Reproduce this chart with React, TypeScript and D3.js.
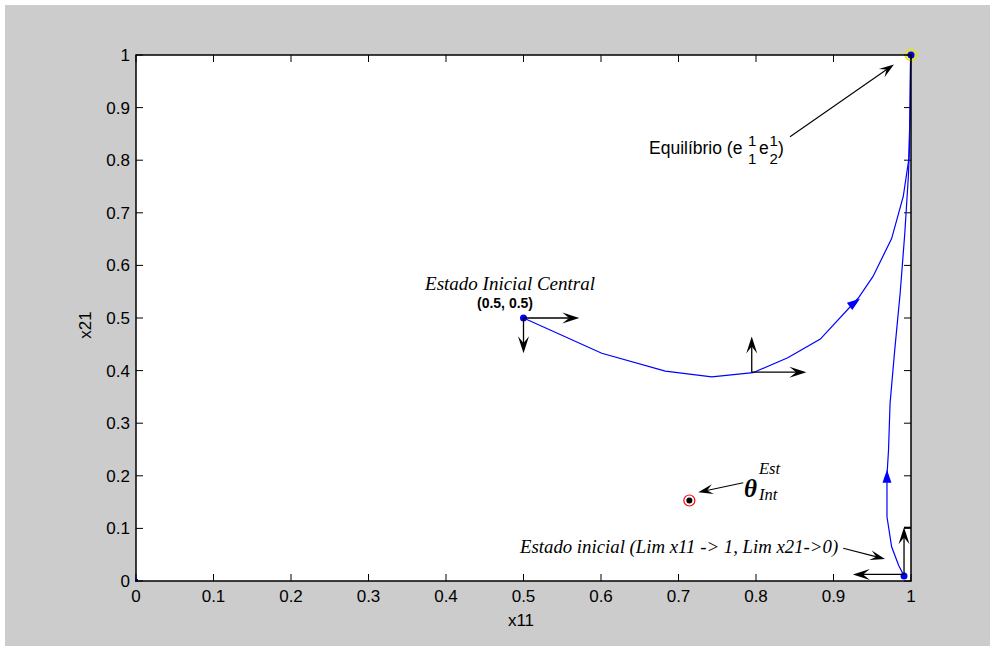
import React from 'react';
import * as d3 from 'd3';

// trajectory from the central initial state
const centralX = [0.5, 0.601, 0.683, 0.743, 0.796, 0.841, 0.883, 0.932, 0.951, 0.975, 0.99, 0.997, 0.999, 0.9995];
const centralY = [0.5, 0.433, 0.399, 0.388, 0.396, 0.4245, 0.46, 0.538, 0.579, 0.651, 0.731, 0.8, 0.9, 1.0];

// trajectory from the bottom-right initial state
const limitX = [0.991, 0.984, 0.975, 0.969, 0.969, 0.971, 0.973, 0.979, 0.986, 0.992, 0.9966, 0.998, 0.9995];
const limitY = [0.0095, 0.03, 0.065, 0.122, 0.2, 0.249, 0.338, 0.439, 0.547, 0.661, 0.769, 0.82, 1.0];

// direction vectors drawn on the trajectories [x0, y0, x1, y1]
const vectors = [
  [0.5, 0.5, 0.572, 0.5],
  [0.5, 0.5, 0.5, 0.433],
  [0.7945, 0.397, 0.7945, 0.465],
  [0.7945, 0.397, 0.865, 0.397],
  [0.991, 0.0125, 0.925, 0.0125],
  [0.991, 0.0125, 0.991, 0.102],
];

// annotation arrows [x0, y0, x1, y1]
const pointers = [
  [0.8439, 0.8447, 0.978, 0.982],
  [0.9126, 0.0622, 0.9665, 0.0418],
  [0.7836, 0.1869, 0.7255, 0.1686],
];

// blue direction markers on the curves [x, y, dx, dy]
const curveMarks = [
  [0.928, 0.53, 1, 1.1],
  [0.969, 0.2, 0, 1],
];

const thetaPoint = [0.714, 0.153];
const equilibrium = [1, 1];

const ticks = [0, 0.1, 0.2, 0.3, 0.4, 0.5, 0.6, 0.7, 0.8, 0.9, 1];

const W = 995;
const H = 651;
const left = 136;
const right = 911;
const top = 55;
const bottom = 581;

const sans = '"Liberation Sans", Arial, sans-serif';
const serif = '"Liberation Serif", "Times New Roman", serif';

// arrow head; notch = 0 gives a plain triangle
function head(x1: number, y1: number, ang: number, len: number, wid: number, notch = 0.4) {
  const ux = Math.cos(ang), uy = Math.sin(ang);
  const px = -uy, py = ux;
  const bx = x1 - ux * len, by = y1 - uy * len;
  const nx = x1 - ux * len * (1 - notch), ny = y1 - uy * len * (1 - notch);
  return `M${x1},${y1}L${bx + px * wid / 2},${by + py * wid / 2}L${nx},${ny}L${bx - px * wid / 2},${by - py * wid / 2}Z`;
}

export default function App() {
  const x = d3.scaleLinear().domain([0, 1]).range([left, right]);
  const y = d3.scaleLinear().domain([0, 1]).range([bottom, top]);

  const path = (xs: number[], ys: number[]) =>
    d3.line<number>().x(d => x(xs[d])).y(d => y(ys[d]))(d3.range(xs.length)) || '';

  const arrow = (a: number[], key: string, len = 15, wid = 10, sw = 1.3) => {
    const x0 = x(a[0]), y0 = y(a[1]), x1 = x(a[2]), y1 = y(a[3]);
    const ang = Math.atan2(y1 - y0, x1 - x0);
    return (
      <g key={key}>
        <line x1={x0} y1={y0} x2={x1 - Math.cos(ang) * len * 0.5} y2={y1 - Math.sin(ang) * len * 0.5} stroke="#000" strokeWidth={sw} />
        <path d={head(x1, y1, ang, len, wid)} fill="#000" />
      </g>
    );
  };

  return (
    <svg width={W} height={H} style={{ position: 'absolute', left: 0, top: 0 }}>
      <rect x={0} y={0} width={W} height={H} fill="#fff" />
      <rect x={5} y={5} width={W - 10} height={H - 10} fill="#cccccc" />
      <rect x={left} y={top} width={right - left} height={bottom - top} fill="#fff" />

      {/* ticks */}
      {ticks.map(t => (
        <g key={'t' + t} stroke="#000" strokeWidth={1}>
          <line x1={x(t)} x2={x(t)} y1={bottom} y2={bottom - 7} />
          <line x1={x(t)} x2={x(t)} y1={top} y2={top + 7} />
          <line x1={left} x2={left + 7} y1={y(t)} y2={y(t)} />
          <line x1={right} x2={right - 7} y1={y(t)} y2={y(t)} />
        </g>
      ))}
      {ticks.map(t => (
        <text key={'xl' + t} x={x(t)} y={bottom + 21} fontFamily={sans} fontSize={17} textAnchor="middle">{String(t)}</text>
      ))}
      {ticks.map(t => (
        <text key={'yl' + t} x={left - 6} y={y(t) + 6} fontFamily={sans} fontSize={17} textAnchor="end">{String(t)}</text>
      ))}
      <text x={521} y={626} fontFamily={sans} fontSize={17} textAnchor="middle">x11</text>
      <text transform={`translate(91,325) rotate(-90)`} fontFamily={sans} fontSize={17} textAnchor="middle">x21</text>

      {/* trajectories */}
      <path d={path(centralX, centralY)} fill="none" stroke="#0000ff" strokeWidth={1.2} />
      <path d={path(limitX, limitY)} fill="none" stroke="#0000ff" strokeWidth={1.2} />
      {curveMarks.map((m, i) => {
        const ang = Math.atan2(-m[3] * (bottom - top), m[2] * (right - left));
        return <path key={'cm' + i} d={head(x(m[0]) + Math.cos(ang) * 6, y(m[1]) + Math.sin(ang) * 6, ang, 13, 9, 0)} fill="#0000ff" />;
      })}

      {/* points */}
      <rect x={x(0) - 1} y={y(0) - 2} width={3} height={3} fill="#0000ff" />
      <circle cx={x(centralX[0])} cy={y(centralY[0])} r={3.5} fill="#0000ff" />
      <circle cx={x(limitX[0])} cy={y(limitY[0])} r={3.5} fill="#0000ff" />
      <circle cx={x(equilibrium[0])} cy={y(equilibrium[1])} r={5.5} fill="none" stroke="#e6e600" strokeWidth={1.5} />
      <circle cx={x(equilibrium[0])} cy={y(equilibrium[1])} r={3.5} fill="#0000cc" />
      <circle cx={x(thetaPoint[0])} cy={y(thetaPoint[1])} r={5.5} fill="none" stroke="#ff0000" strokeWidth={1.2} />
      <circle cx={x(thetaPoint[0])} cy={y(thetaPoint[1])} r={3} fill="#000" />

      {/* frame */}
      <rect x={left} y={top} width={right - left} height={bottom - top} fill="none" stroke="#000" strokeWidth={1.5} />

      {/* vectors */}
      {vectors.map((v, i) => arrow(v, 'v' + i, 17, 11, 1.3))}
      <line x1={x(vectors[5][2])} x2={right} y1={y(vectors[5][3])} y2={y(vectors[5][3])} stroke="#000" strokeWidth={1.3} />
      {pointers.map((p, i) => arrow(p, 'p' + i, 15, 10, 1.1))}

      {/* labels */}
      <text x={510} y={290} fontFamily={serif} fontStyle="italic" fontSize={19} textAnchor="middle">Estado Inicial Central</text>
      <text x={505} y={308} fontFamily={sans} fontWeight="bold" fontSize={14} textAnchor="middle">(0.5, 0.5)</text>

      <text x={649} y={154} fontFamily={sans} fontSize={17.5}>Equilíbrio (e</text>
      <text x={748} y={146} fontFamily={sans} fontSize={15}>1</text>
      <text x={748} y={164} fontFamily={sans} fontSize={15}>1</text>
      <text x={759} y={154} fontFamily={sans} fontSize={17.5}>e</text>
      <text x={769.5} y={146} fontFamily={sans} fontSize={15}>1</text>
      <text x={769.5} y={164} fontFamily={sans} fontSize={15}>2</text>
      <text x={778} y={154} fontFamily={sans} fontSize={17.5}>)</text>

      <text x={520} y={553} fontFamily={serif} fontStyle="italic" fontSize={18.8}>Estado inicial (Lim x11 -&gt; 1, Lim x21-&gt;0)</text>

      <text x={744} y={497} fontFamily={serif} fontStyle="italic" fontWeight="bold" fontSize={25}>θ</text>
      <text x={759} y={474} fontFamily={serif} fontStyle="italic" fontSize={16.5}>Est</text>
      <text x={759} y={500} fontFamily={serif} fontStyle="italic" fontSize={16.5}>Int</text>
    </svg>
  );
}
